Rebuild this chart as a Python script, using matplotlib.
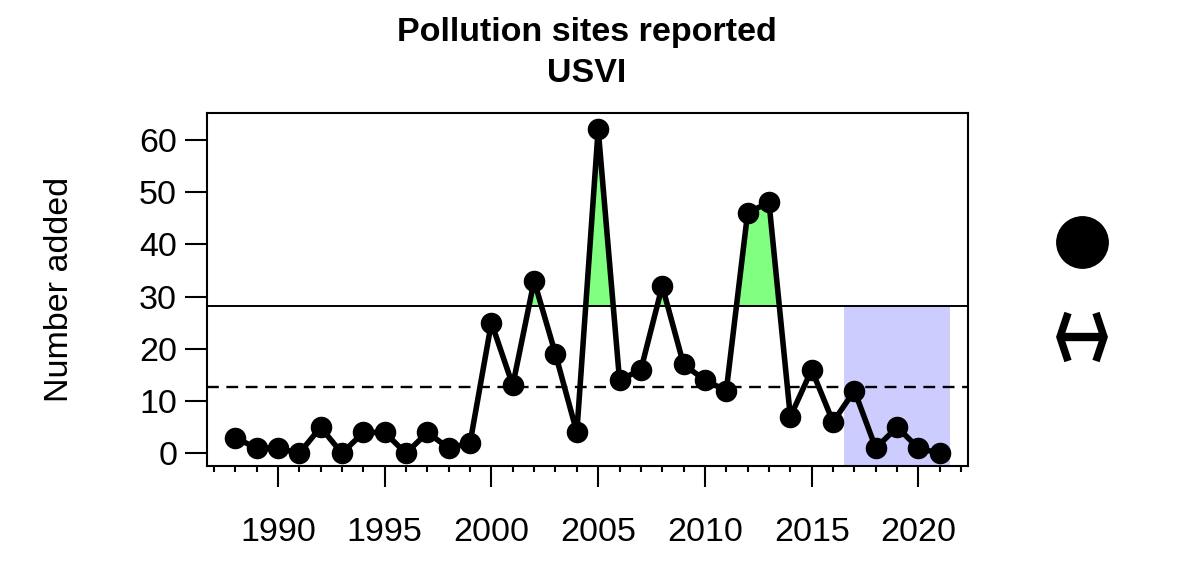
import numpy as np
import matplotlib
matplotlib.use('Agg')
import matplotlib.pyplot as plt

plt.rcParams['font.family'] = ['Liberation Sans', 'DejaVu Sans']

# data
years = list(range(1988, 2022))
added = [3, 1, 1, 0, 5, 0, 4, 4, 0, 4, 1, 2,
         25, 13, 33, 19, 4, 62, 14, 16, 32, 17, 14, 12,
         46, 48, 7, 16, 6, 12, 1, 5, 1, 0]
mean_line = 12.6
upper_line = 28.2
recent_span = [2016.5, 2021.5]

title_lines = ['Pollution sites reported', 'USVI']
y_label = 'Number added'

fig = plt.figure(figsize=(11.97, 5.70), dpi=100)
ax = fig.add_axes([207/1197, 1 - 466/570, (968-207)/1197, (466-113)/570])

x = np.array(years, dtype=float)
y = np.array(added, dtype=float)

ylo, yhi = -2.42, 65.1

# recent window shading (below upper line)
ax.fill_between(recent_span, ylo, upper_line, color='#ccccff', lw=0, zorder=1)
# above upper line
ax.fill_between(x, upper_line, y, where=y > upper_line, interpolate=True,
                color='#80ff80', lw=0, zorder=1)

ax.axhline(upper_line, color='black', lw=1.4, zorder=2)
ax.axhline(mean_line, color='black', lw=1.7, ls=(0, (5, 3.2)), zorder=2)

ax.plot(x, y, color='black', lw=4.0, marker='o', ms=14.5, zorder=3)

ax.set_xlim(1986.68, 2022.32)
ax.set_ylim(ylo, yhi)

for s in ax.spines.values():
    s.set_linewidth(1.5)

ax.set_yticks([0, 10, 20, 30, 40, 50, 60])
ax.tick_params(axis='y', direction='out', length=15.5, width=1.5, labelsize=24.5, pad=6)
ax.set_xticks(range(1990, 2021, 5))
ax.set_xticks(range(1987, 2023), minor=True)
ax.tick_params(axis='x', which='major', direction='out', length=15, width=1.5,
               labelsize=24.5, pad=22)
ax.tick_params(axis='x', which='minor', direction='out', length=4.5, width=1.5)

ax.set_ylabel(y_label, fontsize=24.5)
ax.yaxis.set_label_coords(-0.173, 0.5)

fig.text(587/1197, 1 - 32/570, title_lines[0], ha='center', va='center',
         fontsize=24.5, fontweight='bold')
fig.text(587/1197, 1 - 73/570, title_lines[1], ha='center', va='center',
         fontsize=24.5, fontweight='bold')

# symbols on the right
over = fig.add_axes([0, 0, 1, 1])
over.set_xlim(0, 1197)
over.set_ylim(570, 0)
over.axis('off')
over.plot([1082], [242], 'o', color='black', ms=37)
arrow_kw = dict(color='black', lw=5.4, solid_capstyle='butt', solid_joinstyle='miter')
over.plot([1068, 1060, 1068], [313, 337, 361], **arrow_kw)
over.plot([1096, 1104, 1096], [313, 337, 361], **arrow_kw)
over.plot([1060, 1104], [337, 337], color='black', lw=6, solid_capstyle='butt')

fig.savefig('out.png', dpi=100)
